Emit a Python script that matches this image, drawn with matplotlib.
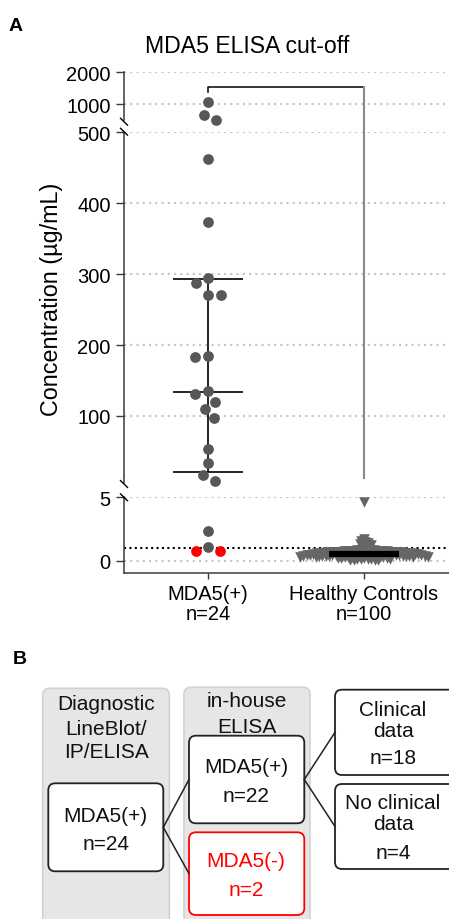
import matplotlib.pyplot as plt
import numpy as np
from matplotlib.patches import FancyBboxPatch

plt.rcParams['font.family'] = ['Liberation Sans', 'DejaVu Sans']
plt.rcParams['font.size'] = 14.5

W, H, DPI = 449, 920, 100

# ---------------- data ----------------
title = "MDA5 ELISA cut-off"
ylabel = "Concentration (µg/mL)"
group_labels = ["MDA5(+)\nn=24", "Healthy Controls\nn=100"]

# MDA5(+) by diagnostic test, confirmed by in-house ELISA
mda5_confirmed = [1054, 662, 510, 463, 373, 295, 287, 270, 270, 185, 183,
                  135, 131.5, 120, 110, 97, 53.5, 33.5, 16.5, 8, 2.36, 1.12]
# MDA5(+) by diagnostic test, negative in in-house ELISA
mda5_negative = [0.76, 0.76]

healthy_controls = [
    4.60, 1.72, 1.55, 1.45, 1.38, 1.30, 1.22, 0.95, 0.88, 0.85,
    0.84, 0.83, 0.82, 0.80, 0.79, 0.78, 0.77, 0.76, 0.75, 0.74,
    0.73, 0.72, 0.71, 0.70, 0.69, 0.68, 0.67, 0.66, 0.65, 0.64,
    0.63, 0.62, 0.61, 0.60, 0.59, 0.58, 0.57, 0.56, 0.55, 0.54,
    0.53, 0.52, 0.51, 0.50, 0.49, 0.48, 0.47, 0.46, 0.45, 0.45,
    0.44, 0.43, 0.42, 0.41, 0.40, 0.39, 0.38, 0.37, 0.36, 0.35,
    0.34, 0.33, 0.32, 0.31, 0.30, 0.29, 0.28, 0.27, 0.26, 0.25,
    0.22, 0.20, 0.18, 0.16, 0.14, 0.12, 0.10, 0.08, 0.06, 0.04,
    0.62, 0.58, 0.54, 0.50, 0.46, 0.42, 0.38, 0.34, 0.30, 0.26,
    0.70, 0.66, 0.52, 0.48, 0.44, 0.40, 0.36, 0.32, 0.14, 0.09,
]
cutoff = 1.0
bracket_level = 1550

# broken y axis: (low, high, ticks) from top to bottom
seg_limits = [(500, 2000), (5, 500), (-1, 5)]
seg_ticks = [[1000, 2000], [100, 200, 300, 400, 500], [0, 5]]

# ---------------- layout ----------------
seg_px = [(73.3, 120.9), (133.3, 484.3), (498.3, 574.4)]   # top/bottom pixel rows
AX_LEFT, AX_RIGHT = 124, 449
X0_PX, X1_PX = 208, 364
unit = X1_PX - X0_PX
xlim = ((AX_LEFT - X0_PX) / unit, 1 + (AX_RIGHT - X1_PX) / unit)

DOT = '#575757'
TRI = '#666666'
GRID = '#c4c4c4'
SPINE = '#3a3a3a'


def px_rect(left, top, right, bottom):
    return [left / W, 1 - bottom / H, (right - left) / W, (bottom - top) / H]


fig = plt.figure(figsize=(W / DPI, H / DPI), dpi=DPI)
over = fig.add_axes([0, 0, 1, 1], zorder=5)
over.set_xlim(0, W)
over.set_ylim(H, 0)
over.axis('off')

axes = []
for (lo, hi), ticks, (top, bottom) in zip(seg_limits, seg_ticks, seg_px):
    ax = fig.add_axes(px_rect(AX_LEFT, top, AX_RIGHT, bottom))
    ax.set_xlim(*xlim)
    ax.set_ylim(lo, hi)
    ax.set_yticks(ticks)
    ax.set_axisbelow(True)
    ax.yaxis.grid(True, linestyle=(0, (1, 2)), color=GRID, linewidth=1.5)
    for side in ('top', 'right', 'bottom'):
        ax.spines[side].set_visible(False)
    ax.spines['left'].set_color(SPINE)
    ax.spines['left'].set_linewidth(1.1)
    ax.tick_params(axis='y', length=5.8, width=1, color=SPINE, pad=3.8, labelsize=14.5)
    ax.tick_params(axis='x', bottom=False, labelbottom=False)
    ax.patch.set_alpha(0)
    axes.append(ax)

ax_top, ax_mid, ax_bot = axes
ax_bot.spines['bottom'].set_visible(True)
ax_bot.spines['bottom'].set_color(SPINE)
ax_bot.spines['bottom'].set_linewidth(1.1)
ax_bot.set_xticks([0, 1])
ax_bot.set_xticklabels(group_labels, linespacing=1.1)
ax_bot.tick_params(axis='x', bottom=True, labelbottom=True, length=4.3, width=1,
                   color=SPINE, pad=3.3, labelsize=14.5)
ax_bot.axhline(cutoff, color='black', linestyle=(0, (1, 1.6)), linewidth=1.5, zorder=1.5)


def axis_for(v):
    if v >= seg_limits[0][0]:
        return ax_top
    if v >= seg_limits[1][0]:
        return ax_mid
    return ax_bot


def pixel_y(v):
    return axis_for(v).transData.transform((0, v))[1]


def swarm(values, diameter):
    ys = np.array([pixel_y(v) for v in values])
    offsets = np.zeros(len(ys))
    placed = []
    for i in np.argsort(-ys):
        y = ys[i]
        cands = [0.0]
        for px, py in placed:
            dy = abs(py - y)
            if dy < diameter:
                dx = np.sqrt(diameter ** 2 - dy ** 2)
                cands += [px + dx, px - dx]
        cands.sort(key=lambda c: (abs(c), c))
        for c in cands:
            if all((c - px) ** 2 + (y - py) ** 2 >= diameter ** 2 - 1e-6 for px, py in placed):
                offsets[i] = c
                placed.append((c, y))
                break
    return offsets / unit


def draw_stats(values, x, half, lw, color='black', z=2):
    q1, med, q3 = np.percentile(values, [25, 50, 75], method='weibull')
    ax = axis_for(med)
    ax.vlines(x, q1, q3, color=color, linewidth=lw, zorder=z)
    ax.hlines([q1, med, q3], x - half, x + half, color=color, linewidth=lw, zorder=z)


# MDA5(+) group
mda5_all = mda5_confirmed + mda5_negative
mda5_colors = [DOT] * len(mda5_confirmed) + ['#ff0000'] * len(mda5_negative)
mda5_dx = swarm(mda5_all, 13)
draw_stats(mda5_all, 0, 35 / unit, 1.2, z=2)
for v, dx, c in zip(mda5_all, mda5_dx, mda5_colors):
    axis_for(v).scatter(0 + dx, v, s=60, color=c, linewidths=0, zorder=3, clip_on=False)

# Healthy controls
hc_dx = swarm(healthy_controls, 3.4)
for v, dx in zip(healthy_controls, hc_dx):
    axis_for(v).scatter(1 + dx, v, s=58, marker='v', color=TRI, linewidths=0,
                        zorder=2, clip_on=False)
draw_stats(healthy_controls, 1, 35 / unit, 1.6, z=4)

# bracket from MDA5(+) over to healthy controls
ax_top.plot([0, 0, 1], [1370, bracket_level, bracket_level], color='black',
            linewidth=1.1, clip_on=False, zorder=3)
bracket_mid = ax_mid.transData.inverted().transform(
    ax_top.transData.transform((1, bracket_level)))[1]
ax_mid.plot([1, 1], [13, bracket_mid], color='#8a8a8a', linewidth=1.5,
            clip_on=False, zorder=2)

# axis break marks
for yc in (122.7, 132.7, 485.0, 498.3):
    over.plot([AX_LEFT - 3.5, AX_LEFT + 3.5], [yc - 3.4, yc + 3.4], color='black', linewidth=1)

fig.text(247 / W, 1 - 53 / H, title, ha='center', va='baseline', fontsize=16.6)
fig.text(51.5 / W, 1 - 299 / H, ylabel, ha='center', va='center', rotation=90, fontsize=16.8)
fig.text(9 / W, 1 - 30.7 / H, "A", ha='left', va='baseline', fontsize=14, fontweight='bold')
fig.text(12.5 / W, 1 - 664 / H, "B", ha='left', va='baseline', fontsize=14, fontweight='bold')

# ---------------- panel B: flow diagram ----------------
def box(x0, y0, x1, y1, face, edge, r=7, lw=1.3):
    over.add_patch(FancyBboxPatch((x0, y0), x1 - x0, y1 - y0,
                                  boxstyle=f"round,pad=0,rounding_size={r}",
                                  facecolor=face, edgecolor=edge, linewidth=lw))


def lines_at(x, baselines, texts, color='#111111'):
    for b, t in zip(baselines, texts):
        over.text(x, b, t, ha='center', va='baseline', color=color, fontsize=15)


box(42.7, 689.3, 169.3, 935, '#e6e6e6', '#d2d2d2', lw=1.2)
box(184, 688.3, 310, 935, '#e6e6e6', '#d2d2d2', lw=1.2)
box(48.3, 784.3, 163.3, 872.3, 'white', '#222222')
box(189, 736.7, 304.3, 824.3, 'white', '#222222')
box(189, 833.3, 304.3, 916, 'white', '#ff0000')
box(335, 690.7, 462, 776, 'white', '#222222')
box(335, 785, 462, 870, 'white', '#222222')

lines_at(106, [710, 735, 758.3], ["Diagnostic", "LineBlot/", "IP/ELISA"])
lines_at(246.7, [706.7, 732.7], ["in-house", "ELISA"])
lines_at(105.8, [821.7, 850], ["MDA5(+)", "n=24"])
lines_at(246, [773.3, 801.7], ["MDA5(+)", "n=22"])
lines_at(246, [867.3, 896], ["MDA5(-)", "n=2"], color='#ff0000')
lines_at(393, [716, 736.7, 764], ["Clinical", "data", "n=18"])
lines_at(393, [809.3, 830, 859.3], ["No clinical", "data", "n=4"])

for (xa, ya), (xb, yb) in [((163.3, 828.3), (189, 780.5)), ((163.3, 828.3), (189, 874.6)),
                           ((304.3, 780.5), (335, 733.3)), ((304.3, 780.5), (335, 827.5))]:
    over.plot([xa, xb], [ya, yb], color='#222222', linewidth=1.1)

fig.savefig("out.png", dpi=DPI)
